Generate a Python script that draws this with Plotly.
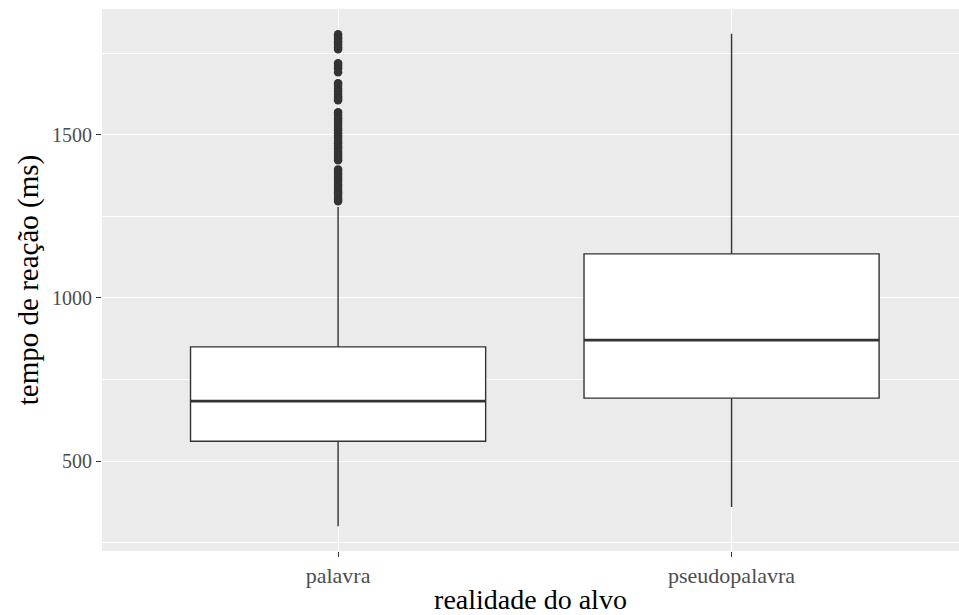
import plotly.graph_objects as go

# Categories and their axis positions
categories = ["palavra", "pseudopalavra"]
positions = [1, 2]

# Box statistics (ms)
q1 = [561, 693]
medians = [684, 871]
q3 = [850, 1135]
lower_whisker = [300, 359]
upper_whisker = [1279, 1810]

# Outlying reaction times for "palavra"
palavra_outliers = [
    1808, 1800, 1794, 1787, 1781, 1775, 1768, 1762,
    1719, 1712, 1704, 1692,
    1658, 1650, 1641, 1633, 1625, 1617, 1611, 1606,
    1569, 1561, 1552, 1546, 1538, 1530, 1521, 1514, 1505, 1497,
    1490, 1482, 1474, 1466, 1459, 1450, 1443, 1436, 1429, 1422,
    1394, 1386, 1378, 1371, 1363, 1355, 1347, 1340, 1331, 1324,
    1317, 1309, 1302, 1296,
]

y_ticks = [500, 1000, 1500]
box_width = 0.75
ink = "#333333"
serif = "Liberation Serif, Times New Roman, serif"

fig = go.Figure()

for i, pos in enumerate(positions):
    fig.add_trace(go.Box(
        x=[pos],
        q1=[q1[i]], median=[medians[i]], q3=[q3[i]],
        lowerfence=[lower_whisker[i]], upperfence=[upper_whisker[i]],
        width=box_width, whiskerwidth=0,
        fillcolor="white",
        line=dict(color=ink, width=1.4),
        boxpoints=False,
        showlegend=False, hoverinfo="skip",
    ))
    # thicker median bar, as in ggplot
    fig.add_trace(go.Scatter(
        x=[pos - box_width / 2, pos + box_width / 2],
        y=[medians[i], medians[i]],
        mode="lines", line=dict(color=ink, width=2.8),
        showlegend=False, hoverinfo="skip",
    ))

fig.add_trace(go.Scatter(
    x=[positions[0]] * len(palavra_outliers),
    y=palavra_outliers,
    mode="markers",
    marker=dict(color=ink, size=8.5, line=dict(width=0)),
    showlegend=False, hoverinfo="skip",
))

data_min = min(lower_whisker)
data_max = max(upper_whisker + palavra_outliers)
pad = (data_max - data_min) * 0.05

fig.update_layout(
    width=959, height=615,
    margin=dict(l=102, r=0, t=9, b=64),
    paper_bgcolor="white",
    plot_bgcolor="#EBEBEB",
    font=dict(family=serif),
    xaxis=dict(
        range=[0.4, 2.578],
        tickmode="array", tickvals=positions, ticktext=categories,
        showgrid=True, gridcolor="white", gridwidth=1.1,
        zeroline=False, showline=False,
        ticks="outside", ticklen=5, tickwidth=1, tickcolor=ink,
        tickfont=dict(family=serif, size=22, color="#4D4D4D"),
        title=dict(text="realidade do alvo", standoff=2,
                   font=dict(family=serif, size=28, color="black")),
    ),
    yaxis=dict(
        range=[data_min - pad, data_max + pad],
        tickmode="array", tickvals=y_ticks,
        showgrid=True, gridcolor="white", gridwidth=1.1,
        minor=dict(dtick=250, tick0=250, showgrid=True,
                   gridcolor="white", gridwidth=0.55),
        zeroline=False, showline=False,
        ticks="outside", ticklen=5, tickwidth=1, tickcolor=ink,
        tickfont=dict(family=serif, size=20, color="#4D4D4D"),
        title=dict(text="tempo de reação (ms)", standoff=4,
                   font=dict(family=serif, size=29, color="black")),
    ),
)

fig.write_html("out.html")
